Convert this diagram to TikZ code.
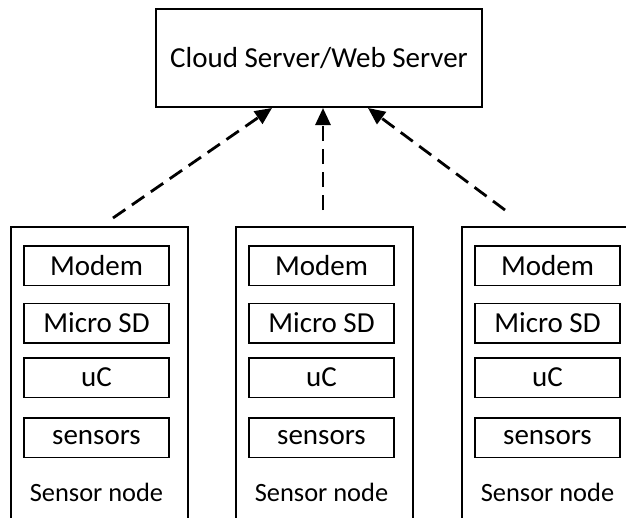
\documentclass[tikz,border=0pt]{standalone}
\usepackage{fontspec}
\setmainfont{Carlito}
\usetikzlibrary{arrows.meta}
\begin{document}
\begin{tikzpicture}[x=1pt,y=-1pt,
  box/.style={draw, line width=1.7pt, inner sep=0pt, font=\fontsize{29}{34}\selectfont},
  part/.style={draw, line width=1.5pt, inner sep=0pt, minimum width=145pt, minimum height=39.5pt, font=\fontsize{29}{34}\selectfont},
  outer/.style={draw, line width=1.7pt, inner sep=0pt, minimum width=177pt, minimum height=303pt},
  caption/.style={inner sep=0pt, font=\fontsize{26.4}{30}\selectfont},
  link/.style={line width=2.8pt, dash pattern=on 15pt off 8pt, -{Triangle[length=17pt,width=15pt]}}]
\useasboundingbox (0,0) rectangle (626,517);
\clip (0,0) rectangle (626,517);
\node[box, minimum width=326pt, minimum height=98pt] (top) at (319,58) {Cloud Server/Web Server};
\foreach \i/\ox in {1/11, 2/236, 3/462} {
  \node[outer] (o\i) at (\ox+88.5,378.5) {};
  \node[part] (m\i) at (\ox+85.5,265.5) {Modem};
  \node[part] (sd\i) at (\ox+85.5,323) {Micro SD};
  \node[part] (uc\i) at (\ox+85.5,377.5) {uC};
  \node[part] (se\i) at (\ox+85.5,437.5) {sensors};
  \node[caption] (c\i) at (\ox+85.5,492) {Sensor node};
}
\coordinate (s1) at (113,218);
\coordinate (s2) at (323,210);
\coordinate (s3) at (505,210);
\coordinate (t1) at (272,108);
\coordinate (t2) at (323,108);
\coordinate (t3) at (368,108);
\draw[link] (s1) -- (t1);
\draw[link] (s2) -- (t2);
\draw[link] (s3) -- (t3);
\end{tikzpicture}
\end{document}
